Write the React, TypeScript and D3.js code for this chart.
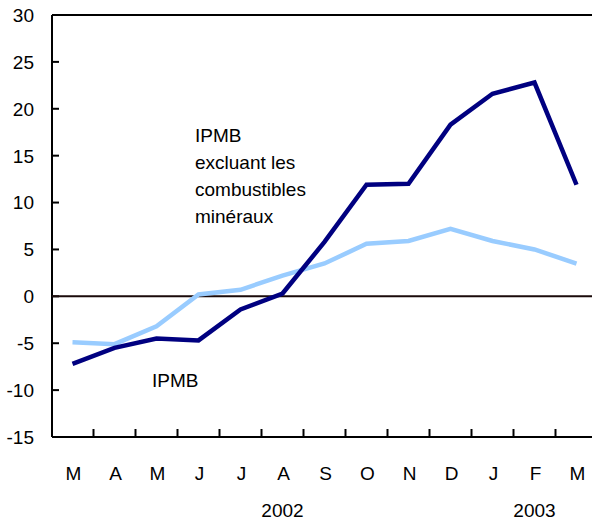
import React, { useEffect, useRef } from "react";
import * as d3 from "d3";

const months = ["M", "A", "M", "J", "J", "A", "S", "O", "N", "D", "J", "F", "M"];
const ipmbExcl = [-7.2, -5.5, -4.5, -4.7, -1.4, 0.3, 5.8, 11.9, 12.0, 18.3, 21.6, 22.8, 11.9];
const ipmb = [-4.9, -5.1, -3.2, 0.2, 0.7, 2.2, 3.5, 5.6, 5.9, 7.2, 5.9, 5.0, 3.5];
const yTicks = [30, 25, 20, 15, 10, 5, 0, -5, -10, -15];
const years = [
  { label: "2002", at: 5 },
  { label: "2003", at: 11 },
];
const noteExcl = ["IPMB", "excluant les", "combustibles", "minéraux"];
const noteIpmb = "IPMB";

const W = 592;
const H = 520;

export default function App() {
  const ref = useRef<SVGSVGElement>(null);

  useEffect(() => {
    document.body.style.margin = "0";
    const svg = d3.select(ref.current);
    svg.selectAll("*").remove();

    const font = "Liberation Sans, Arial, sans-serif";
    const fs = 19;
    const left = 52;
    const top = 15;
    const bottom = 437;

    const idx = months.map((_, i) => String(i));
    const x = d3.scaleBand().domain(idx).range([51.5, 597.5]);
    const cx = (i: number) => (x(String(i)) as number) + x.bandwidth() / 2;
    const y = d3.scaleLinear().domain([-15, 30]).range([bottom, top]);

    // frame
    svg.append("line")
      .attr("x1", left).attr("x2", W + 6)
      .attr("y1", top).attr("y2", top)
      .attr("stroke", "#000").attr("stroke-width", 2);

    // y axis
    svg.append("line")
      .attr("x1", left).attr("x2", left)
      .attr("y1", top).attr("y2", bottom)
      .attr("stroke", "#000").attr("stroke-width", 2);
    const yg = svg.append("g");
    yg.selectAll("line")
      .data(yTicks)
      .join("line")
      .attr("x1", left).attr("x2", left + 7)
      .attr("y1", (d) => y(d)).attr("y2", (d) => y(d))
      .attr("stroke", "#000").attr("stroke-width", 2);
    yg.selectAll("text")
      .data(yTicks)
      .join("text")
      .attr("x", 34)
      .attr("y", (d) => y(d))
      .attr("dy", "0.36em")
      .attr("text-anchor", "end")
      .attr("font-family", font)
      .attr("font-size", fs)
      .text((d) => d);

    // x axis
    svg.append("line")
      .attr("x1", left).attr("x2", W + 6)
      .attr("y1", bottom).attr("y2", bottom)
      .attr("stroke", "#000").attr("stroke-width", 2);
    const xg = svg.append("g");
    xg.selectAll("line")
      .data(idx.slice(1))
      .join("line")
      .attr("x1", (d) => x(d) as number).attr("x2", (d) => x(d) as number)
      .attr("y1", bottom).attr("y2", bottom - 8)
      .attr("stroke", "#000").attr("stroke-width", 2);
    xg.selectAll("text")
      .data(months)
      .join("text")
      .attr("x", (_, i) => cx(i) + 1)
      .attr("y", 480)
      .attr("text-anchor", "middle")
      .attr("font-family", font)
      .attr("font-size", fs)
      .text((d) => d);
    svg.append("g")
      .selectAll("text")
      .data(years)
      .join("text")
      .attr("x", (d) => cx(d.at))
      .attr("y", 517)
      .attr("text-anchor", "middle")
      .attr("font-family", font)
      .attr("font-size", fs)
      .text((d) => d.label);

    // zero line
    svg.append("line")
      .attr("x1", left).attr("x2", W + 6)
      .attr("y1", y(0)).attr("y2", y(0))
      .attr("stroke", "#1a0a0a").attr("stroke-width", 2);

    const line = d3.line<number>()
      .x((_, i) => cx(i))
      .y((d) => y(d));

    svg.append("path")
      .attr("d", line(ipmb))
      .attr("fill", "none")
      .attr("stroke", "#99ccff")
      .attr("stroke-width", 4.5);
    svg.append("path")
      .attr("d", line(ipmbExcl))
      .attr("fill", "none")
      .attr("stroke", "#000080")
      .attr("stroke-width", 4.5);

    // annotations
    svg.append("text")
      .attr("font-family", font)
      .attr("font-size", fs)
      .selectAll("tspan")
      .data(noteExcl)
      .join("tspan")
      .attr("x", 195)
      .attr("y", (_, i) => 142 + i * 27)
      .text((d) => d);
    svg.append("text")
      .attr("x", 152)
      .attr("y", 387)
      .attr("font-family", font)
      .attr("font-size", fs)
      .text(noteIpmb);
  }, []);

  return <svg ref={ref} width={W} height={H} style={{ display: "block" }} />;
}
